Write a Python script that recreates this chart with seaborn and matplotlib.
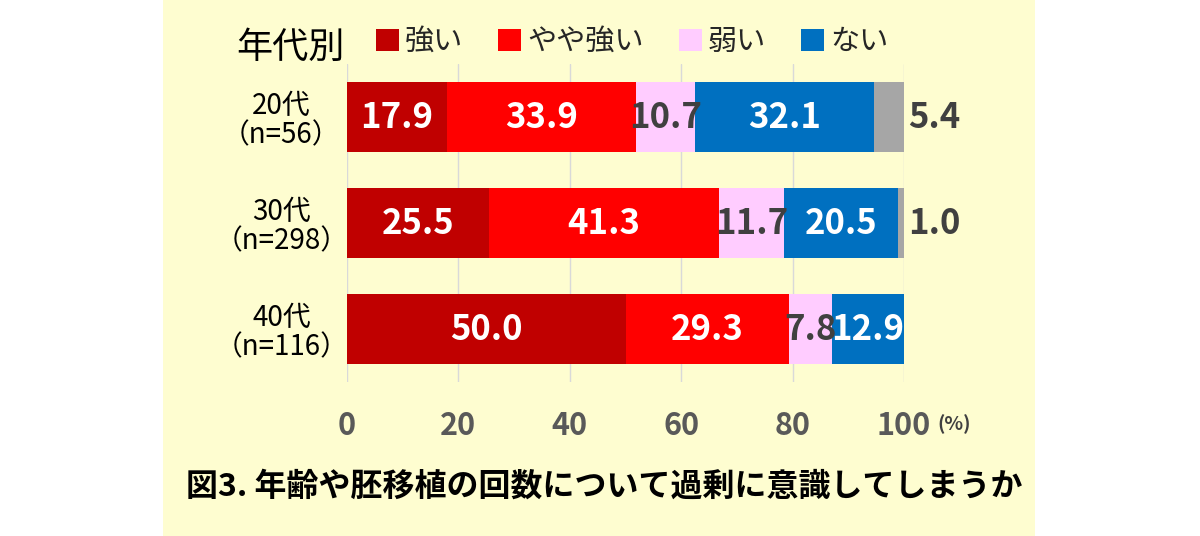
import matplotlib
matplotlib.use("Agg")
import matplotlib.pyplot as plt
import seaborn as sns
import pandas as pd
import numpy as np
from matplotlib.patches import Rectangle, Patch

sns.set_theme(style="white")
plt.rcParams['font.family'] = ['Noto Sans CJK JP', 'DejaVu Sans']

# ---- data ----
groups = ["20代\n（n=56）", "30代\n（n=298）", "40代\n（n=116）"]
series = ["強い", "やや強い", "弱い", "ない", "その他"]
strong = [17.9, 25.5, 50.0]
rather_strong = [33.9, 41.3, 29.3]
weak = [10.7, 11.7, 7.8]
none_ = [32.1, 20.5, 12.9]
other = [5.4, 1.0, 0.0]
xticks = [0, 20, 40, 60, 80, 100]

colors = ["#C00000", "#FF0000", "#FFCCFF", "#0070C0", "#A6A6A6"]
text_colors = ["white", "white", "#404040", "white", "#404040"]

values = np.array([strong, rather_strong, weak, none_, other])
cum = values.cumsum(axis=0)

fig = plt.figure(figsize=(12, 5.36), dpi=100, facecolor="white")
fig.patches.append(Rectangle((163/1200, 0), (1035-163)/1200, 1, transform=fig.transFigure,
                             facecolor="#FEFDD0", edgecolor="none", zorder=-10))
ax = fig.add_axes([347/1200, 1-382/536, (904-347)/1200, 318/536])
ax.set_facecolor("none")

# draw stacked bars from outermost to innermost
for i in range(len(series) - 1, -1, -1):
    df = pd.DataFrame({"group": groups, "value": cum[i]})
    sns.barplot(data=df, x="value", y="group", orient="h", color=colors[i],
                saturation=1, width=0.66, ax=ax, zorder=2, linewidth=0)

# labels
for j in range(len(groups)):
    for i in range(len(series)):
        v = values[i, j]
        if v <= 0:
            continue
        if i == len(series) - 1:
            ax.text(100.8, j, f"{v:.1f}", ha="left", va="center", fontsize=25,
                    fontweight="bold", color="#404040", zorder=5)
        else:
            center = cum[i, j] - v / 2
            ax.text(center, j, f"{v:.1f}", ha="center", va="center", fontsize=25,
                    fontweight="bold", color=text_colors[i], zorder=5)

ax.set_xlim(0, 100)
ax.set_ylim(2.5, -0.5)
ax.set_xticks(xticks)
ax.set_xticklabels([str(t) for t in xticks], fontsize=22, color="#595959",
                   fontweight="bold")
ax.tick_params(axis="x", length=0, pad=20)
ax.tick_params(axis="y", length=0, pad=12)
for lbl in ax.get_yticklabels():
    lbl.set_fontsize(20)
    lbl.set_color("#000000")
    lbl.set_ha("center")
    lbl.set_multialignment("center")
    lbl.set_linespacing(1.0)
    lbl.set_x(-0.088)
ax.set_xlabel("")
ax.set_ylabel("")
for s in ax.spines.values():
    s.set_visible(False)
ax.grid(axis="x", color="#D9D9D9", linewidth=1, zorder=0)
ax.set_axisbelow(True)

fig.text(937/1200, 1-424/536, "(%)", fontsize=14, fontweight="bold", color="#404040",
         ha="left", va="center")
fig.text(290/1200, 1-48/536, "年代別", fontsize=26, ha="center", va="center", color="black")

handles = [Patch(facecolor=colors[i], edgecolor="none") for i in range(4)]
fig.legend(handles, series[:4], loc="center", bbox_to_anchor=(632/1200, 1-42/536), ncol=4,
           frameon=False, fontsize=21, handlelength=0.8, handleheight=0.8,
           handletextpad=0.2, columnspacing=1.2)

fig.text(604/1200, 1-487/536, "図3. 年齢や胚移植の回数について過剰に意識してしまうか",
         fontsize=23, fontweight="bold", ha="center", va="center", color="black")

fig.savefig("out.png", dpi=100, facecolor="white")
